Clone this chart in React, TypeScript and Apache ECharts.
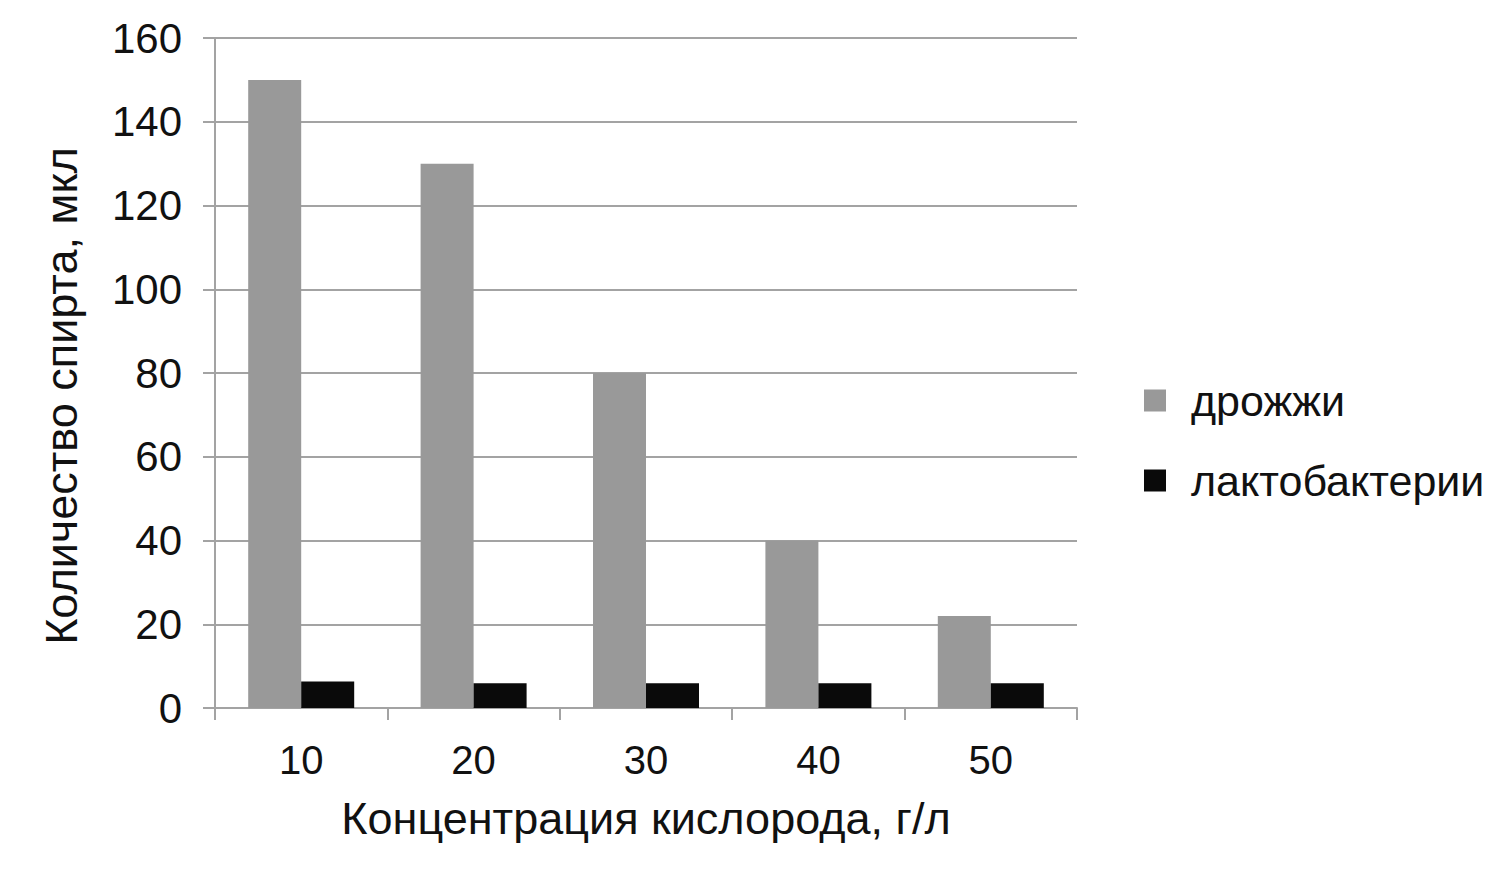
import React, { useEffect, useRef } from "react";
import * as echarts from "echarts";

const categories = ["10", "20", "30", "40", "50"];
const yeastValues = [150, 130, 80, 40, 22];
const lactoValues = [6.3, 5.9, 5.9, 5.9, 5.9];
const seriesNames = ["дрожжи", "лактобактерии"];

const FONT = "'Liberation Sans', Arial, sans-serif";
const AXIS_GRAY = "#a3a3a3";

export default function App() {
  const chartRef = useRef<HTMLDivElement>(null);

  useEffect(() => {
    document.body.style.margin = "0";
    if (!chartRef.current) return;
    const chart = echarts.init(chartRef.current, null, { renderer: "svg" });

    chart.setOption({
      animation: false,
      backgroundColor: "#ffffff",
      textStyle: { fontFamily: FONT },
      grid: { left: 215, right: 423, top: 38, bottom: 179 },
      legend: {
        orient: "vertical",
        left: 1139,
        top: 374,
        itemWidth: 22,
        itemHeight: 22,
        itemGap: 37,
        icon: "rect",
        data: seriesNames,
        textStyle: {
          fontFamily: FONT,
          fontSize: 43,
          color: "#111",
          padding: [0, 0, 0, 20],
        },
      },
      xAxis: {
        type: "category",
        data: categories,
        name: "Концентрация кислорода, г/л",
        nameLocation: "middle",
        nameGap: 88,
        nameTextStyle: { fontFamily: FONT, fontSize: 45, color: "#111" },
        axisLine: { lineStyle: { color: AXIS_GRAY, width: 2 } },
        axisTick: { show: true, length: 12, lineStyle: { color: AXIS_GRAY, width: 2 } },
        axisLabel: { fontFamily: FONT, fontSize: 40, color: "#111", margin: 32 },
      },
      yAxis: {
        type: "value",
        min: 0,
        max: 160,
        interval: 20,
        name: "Количество спирта, мкл",
        nameLocation: "middle",
        nameGap: 131,
        nameTextStyle: {
          fontFamily: FONT,
          fontSize: 45,
          color: "#111",
          padding: [0, 46, 0, 0],
        },
        axisLine: { show: true, lineStyle: { color: AXIS_GRAY, width: 2 } },
        axisTick: { show: true, length: 12, lineStyle: { color: AXIS_GRAY, width: 2 } },
        axisLabel: { fontFamily: FONT, fontSize: 42, color: "#111", margin: 33 },
        splitLine: { show: true, lineStyle: { color: AXIS_GRAY, width: 2 } },
      },
      series: [
        {
          name: seriesNames[0],
          type: "bar",
          data: yeastValues,
          barWidth: 53,
          barGap: "0%",
          itemStyle: { color: "#999999" },
        },
        {
          name: seriesNames[1],
          type: "bar",
          data: lactoValues,
          barWidth: 53,
          barGap: "0%",
          itemStyle: { color: "#0a0a0a" },
        },
      ],
    });

    return () => {
      chart.dispose();
    };
  }, []);

  return <div ref={chartRef} style={{ width: 1500, height: 887 }} />;
}
